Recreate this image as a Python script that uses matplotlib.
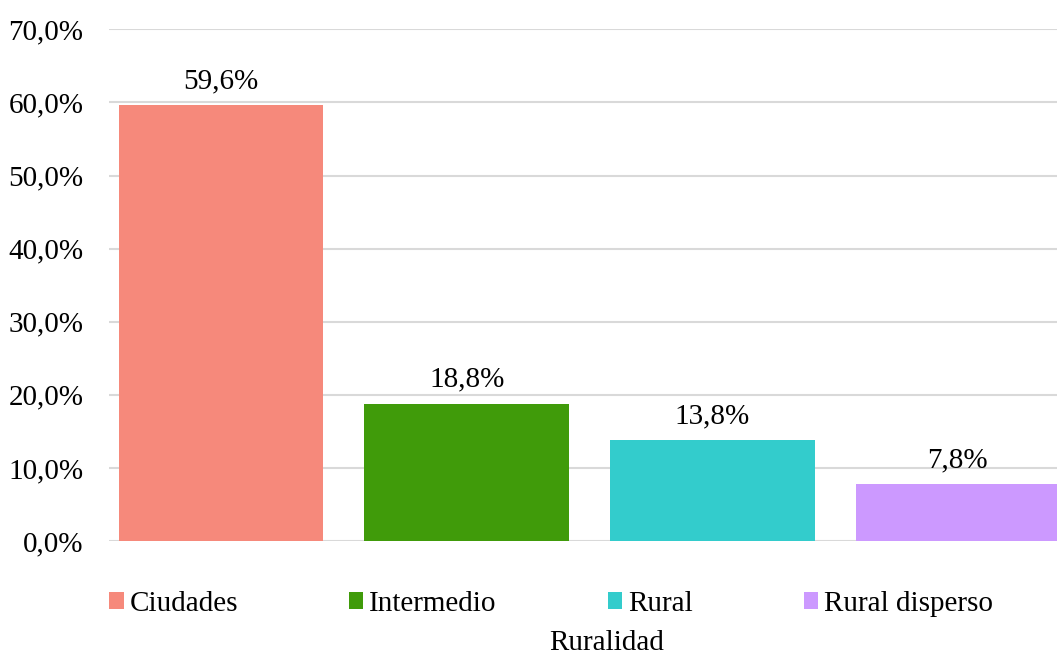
import matplotlib.pyplot as plt
import matplotlib.ticker as mtick
from matplotlib.patches import Patch

# Data
categories = ["Ciudades", "Intermedio", "Rural", "Rural disperso"]
values = [59.6, 18.8, 13.8, 7.8]
colors = ["#F6897B", "#409B0A", "#33CCCC", "#CC99FF"]
y_ticks = [0, 10, 20, 30, 40, 50, 60, 70]

plt.rcParams["font.family"] = ["Liberation Serif", "DejaVu Serif"]
FS = 21

fig = plt.figure(figsize=(10.57, 6.55), dpi=100)
ax = fig.add_axes([109 / 1057, 1 - 541 / 655, 1 - 109 / 1057, (541 - 29.3) / 655])

x = list(range(len(categories)))
bars = ax.bar(x, values, width=0.833, color=colors, zorder=3)

for b, v in zip(bars, values):
    ax.text(b.get_x() + b.get_width() / 2, v + 1.5, f"{v:.1f}%".replace(".", ","),
            ha="center", va="bottom", fontsize=FS)

ax.set_ylim(0, 70)
ax.set_xlim(-0.457, 3.404)
ax.set_yticks(y_ticks)
ax.yaxis.set_major_formatter(mtick.FuncFormatter(lambda v, _: f"{v:.1f}%".replace(".", ",")))
ax.tick_params(axis="y", length=0, pad=18.5, labelsize=FS)
ax.set_xticks([])
ax.grid(axis="y", color="#D9D9D9", linewidth=1.5, zorder=0)
for s in ax.spines.values():
    s.set_visible(False)

handles = [Patch(facecolor=c, edgecolor="none") for c in colors]
fig.legend(handles, categories, loc="center left", bbox_to_anchor=(109 / 1057, 1 - 604 / 655),
           ncol=4, frameon=False, fontsize=FS, handlelength=0.5, handleheight=0.5,
           handletextpad=0.2, columnspacing=3.8, borderaxespad=0, borderpad=0)

fig.text(607 / 1057, 1 - 643 / 655, "Ruralidad", ha="center", va="center", fontsize=FS)

fig.savefig("out.png", dpi=100)
